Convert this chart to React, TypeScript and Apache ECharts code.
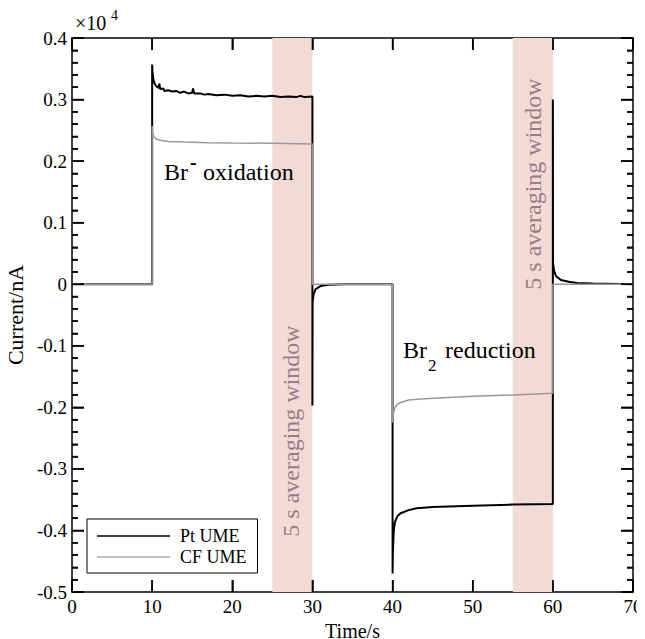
import React, { useEffect, useRef } from "react";
import * as echarts from "echarts";

const seriesNames = ["Pt UME", "CF UME"];
const windows = [[25, 30], [55, 60]];
const xTicks = [0, 10, 20, 30, 40, 50, 60, 70];
const yTicks = [-0.5, -0.4, -0.3, -0.2, -0.1, 0, 0.1, 0.2, 0.3, 0.4];

const ptUME: [number, number][] = [
  [0, 0], [10, 0], [10, 0.357], [10.05, 0.345], [10.15, 0.333], [10.3, 0.326], [10.5, 0.322],
  [10.8, 0.319], [10.9, 0.326], [11.0, 0.317], [11.4, 0.318], [11.5, 0.314], [12.0, 0.315],
  [12.5, 0.313], [13.0, 0.314], [13.5, 0.311], [14.0, 0.313], [14.5, 0.31], [15.0, 0.311],
  [15.1, 0.318], [15.25, 0.31], [16.0, 0.31], [16.5, 0.308], [17.0, 0.309], [18.0, 0.307],
  [19.0, 0.308], [20.0, 0.306], [21.0, 0.307], [22.0, 0.305], [23.0, 0.306], [24.0, 0.305],
  [25.0, 0.306], [26.0, 0.304], [27.0, 0.305], [28.0, 0.304], [28.5, 0.306], [29.0, 0.304],
  [30.0, 0.305], [30.0, -0.197], [30.02, -0.03], [30.15, -0.016], [30.4, -0.008],
  [31.0, -0.003], [32.0, -0.001], [34.0, 0], [40.0, 0], [40.0, -0.47], [40.05, -0.43],
  [40.15, -0.4], [40.3, -0.386], [40.6, -0.377], [41.0, -0.372], [42.0, -0.367],
  [43.0, -0.364], [45.0, -0.362], [50.0, -0.36], [55.0, -0.358], [60.0, -0.357],
  [60.0, 0.3], [60.02, 0.035], [60.15, 0.022], [60.4, 0.013], [61.0, 0.007], [62.0, 0.004],
  [63.0, 0.002], [65.0, 0.001], [70.0, 0]
];

const cfUME: [number, number][] = [
  [0, 0], [10, 0], [10, 0.257], [10.05, 0.248], [10.2, 0.24], [10.5, 0.236], [11.0, 0.234],
  [12.0, 0.232], [14.0, 0.231], [17.0, 0.23], [20.0, 0.2295], [25.0, 0.229], [30.0, 0.228],
  [30.0, 0], [40.0, 0], [40.0, -0.225], [40.1, -0.21], [40.3, -0.2], [40.6, -0.195],
  [41.0, -0.192], [42.0, -0.188], [44.0, -0.186], [47.0, -0.184], [50.0, -0.182],
  [55.0, -0.18], [60.0, -0.177], [60.0, 0], [70.0, 0]
];

const FONT = "Liberation Serif";

export default function App() {
  const ref = useRef<HTMLDivElement>(null);
  useEffect(() => {
    if (!ref.current) return;
    const chart = echarts.init(ref.current, null, { renderer: "svg" });
    const lineSt = () => ({ color: "#000", width: 1.5 });
    const tick = () => ({ show: true, inside: true, length: 12, lineStyle: lineSt() });
    const minor = () => ({ show: true, splitNumber: 5, length: 6, lineStyle: lineSt() });
    const labelFmt = (v: number) => (Math.abs(v) < 1e-9 ? "0" : v.toFixed(1));
    const txt = (text: string, left: number, top: number, size: number, extra: any = {}) => ({
      type: "text", left, top, z: 100,
      style: { text, fontFamily: FONT, fontSize: size, fill: "#000", ...extra }
    });
    chart.setOption({
      animation: false,
      grid: { left: 72, right: 12, top: 38, bottom: 47, containLabel: false, outerBoundsMode: "none" },
      legend: {
        data: seriesNames,
        orient: "vertical",
        left: 87,
        top: 519,
        icon: "rect",
        itemWidth: 73,
        itemHeight: 1.5,
        itemGap: 1,
        padding: [7, 11, 6, 10],
        borderColor: "#000",
        borderWidth: 1,
        backgroundColor: "#fff",
        textStyle: { fontFamily: FONT, fontSize: 18, color: "#000", lineHeight: 20, padding: [0, 0, 0, 5] }
      },
      xAxis: [
        {
          type: "value", min: 0, max: 70, interval: 10, position: "bottom",
          name: "Time/s", nameLocation: "middle", nameGap: 20,
          nameTextStyle: { fontFamily: FONT, fontSize: 20, color: "#000" },
          axisLine: { show: true, onZero: false, lineStyle: lineSt() },
          splitLine: { show: false }, axisTick: tick(),
          axisLabel: { fontFamily: FONT, fontSize: 19, color: "#000", margin: 5 }
        },
        {
          type: "value", min: 0, max: 70, interval: 10, position: "top",
          axisLine: { show: true, onZero: false, lineStyle: lineSt() },
          splitLine: { show: false }, axisTick: tick(),
          axisLabel: { show: false }
        }
      ],
      yAxis: [
        {
          type: "value", min: -0.5, max: 0.4, interval: 0.1, position: "left",
          name: "Current/nA", nameLocation: "middle", nameGap: 46,
          nameTextStyle: { fontFamily: FONT, fontSize: 22, color: "#000" },
          axisLine: { show: true, onZero: false, lineStyle: lineSt() },
          splitLine: { show: false }, axisTick: tick(), minorTick: minor(),
          axisLabel: { fontFamily: FONT, fontSize: 19, color: "#000", margin: 5, formatter: labelFmt }
        },
        {
          type: "value", min: -0.5, max: 0.4, interval: 0.1, position: "right",
          axisLine: { show: true, onZero: false, lineStyle: lineSt() },
          splitLine: { show: false }, axisTick: tick(), minorTick: minor(),
          axisLabel: { show: false }
        }
      ],
      series: [
        {
          name: "windows", type: "line", data: [], z: 1, silent: true,
          markArea: {
            silent: true,
            itemStyle: { color: "#f2dad5" },
            data: windows.map(([a, b]) => [{ xAxis: a }, { xAxis: b }])
          }
        },
        {
          name: seriesNames[0], type: "line", data: ptUME, showSymbol: false, z: 3,
          lineStyle: { color: "#000", width: 2 }, itemStyle: { color: "#000" }
        },
        {
          name: seriesNames[1], type: "line", data: cfUME, showSymbol: false, z: 4,
          lineStyle: { color: "#999", width: 1.5 }, itemStyle: { color: "#aaa" }
        }
      ]
    });

    const tickEls: any[] = [];
    try {
      const toX = (t: number) => {
        const v = chart.convertToPixel({ xAxisIndex: 0 }, t) as any;
        return typeof v === "number" && isFinite(v) ? v : 72 + (t / 70) * 561;
      };
      const toY = (y: number) => {
        const v = chart.convertToPixel({ yAxisIndex: 0 }, y) as any;
        return typeof v === "number" && isFinite(v) ? v : 38 + ((0.4 - y) / 0.9) * 554;
      };
      const yTop = toY(0.4);
      const yBot = toY(-0.5);
      const xL = toX(0);
      const xR = toX(70);
      const vbar = (x: number, y: number, h: number) => ({
        type: "rect", z: 60, silent: true,
        shape: { x: x - 0.75, y, width: 1.5, height: h }, style: { fill: "#000" }
      });
      const hbar = (x: number, y: number, w: number) => ({
        type: "rect", z: 60, silent: true,
        shape: { x, y: y - 0.75, width: w, height: 1.5 }, style: { fill: "#000" }
      });
      xTicks.forEach((t) => {
        const x = toX(t);
        tickEls.push(vbar(x, yBot - 12, 12));
        tickEls.push(vbar(x, yTop, 12));
      });
      yTicks.forEach((v, i) => {
        const y = toY(v);
        tickEls.push(hbar(xL, y, 12));
        tickEls.push(hbar(xR - 12, y, 12));
        if (i < yTicks.length - 1) {
          const step = (yTicks[i + 1] - v) / 5;
          for (let k = 1; k < 5; k++) {
            const ym = toY(v + step * k);
            tickEls.push(hbar(xL, ym, 6));
            tickEls.push(hbar(xR - 6, ym, 6));
          }
        }
      });
    } catch (e) {
      // keep chart without extra tick marks
    }

    chart.setOption({
      graphic: [
        ...tickEls,
        txt("×10", 75, 13, 20),
        txt("4", 111, 8, 14),
        txt("Br", 164, 160, 24),
        txt("-", 190, 152, 20, { fontWeight: "bold" }),
        txt("oxidation", 203, 160, 24),
        txt("Br", 403, 338, 24),
        txt("2", 428, 357, 17),
        txt("reduction", 445, 338, 24),
        {
          type: "text", x: 291, y: 431, rotation: Math.PI / 2, z: 100,
          style: { text: "5 s averaging window", fontFamily: FONT, fontSize: 24, fill: "#9c7b89", align: "center", verticalAlign: "middle" }
        },
        {
          type: "text", x: 533, y: 184, rotation: Math.PI / 2, z: 100,
          style: { text: "5 s averaging window", fontFamily: FONT, fontSize: 24, fill: "#9c7b89", align: "center", verticalAlign: "middle" }
        }
      ]
    });
    return () => chart.dispose();
  }, []);
  return <div ref={ref} style={{ width: 645, height: 639, margin: "-8px 0 0 -8px" }} />;
}
